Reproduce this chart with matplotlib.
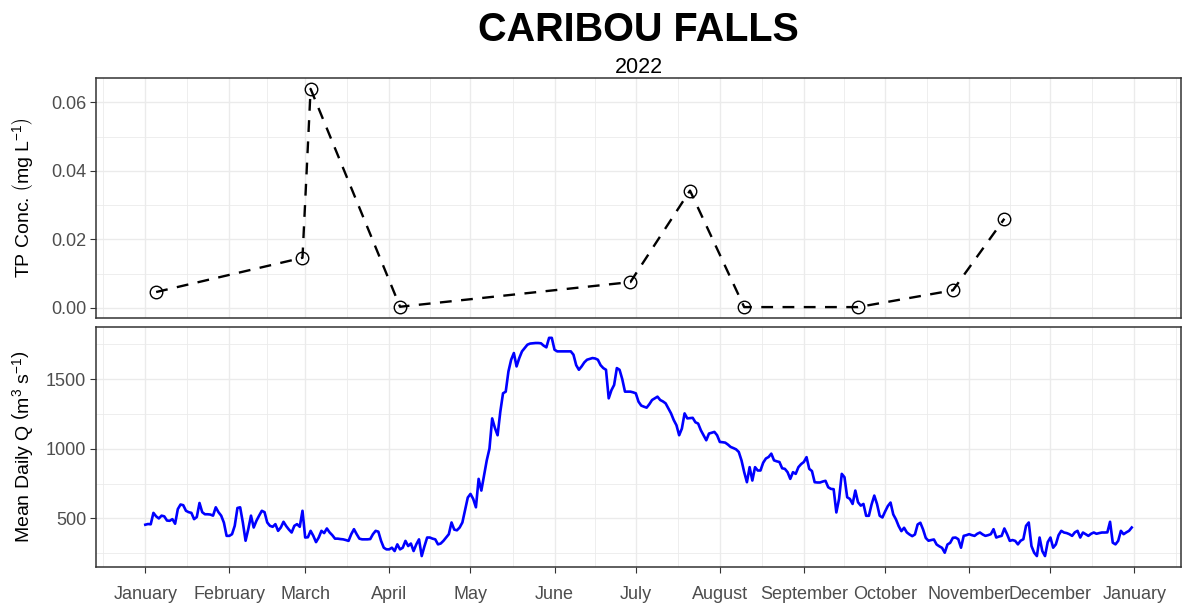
import matplotlib
matplotlib.use('Agg')
import matplotlib.pyplot as plt
import matplotlib.dates as mdates
import matplotlib.ticker as mticker
import pandas as pd

### -------------------------------------------------------------------------------------------------------------------
### Data
### -------------------------------------------------------------------------------------------------------------------

siteName = 'CARIBOU FALLS'
yearLabel = '2022'

# TP grab samples (mg/L)
tpDates = ['2022-01-05', '2022-02-28', '2022-03-03', '2022-04-05', '2022-06-29',
           '2022-07-21', '2022-08-10', '2022-09-21', '2022-10-26', '2022-11-14']
tpConc = [0.0046, 0.0146, 0.0639, 0.0003, 0.0075, 0.0342, 0.0002, 0.0002, 0.0051, 0.0260]

# mean daily discharge (m3/s), one list per month
qJan = [455, 460, 458, 540, 515, 500, 520, 515, 485, 483, 495, 462, 567, 600, 595, 555,
        545, 540, 495, 510, 611, 545, 530, 530, 528, 520, 580, 545, 520, 470, 375]
qFeb = [375, 387, 447, 575, 580, 470, 340, 423, 520, 435, 483, 520, 555, 545, 471, 447,
        440, 459, 411, 435, 476, 445, 420, 399, 447, 459, 440, 555]
qMar = [363, 365, 411, 375, 330, 363, 411, 395, 428, 400, 380, 355, 355, 352, 350, 345,
        339, 387, 423, 387, 355, 350, 350, 350, 352, 387, 411, 405, 339, 290, 278]
qApr = [278, 290, 266, 314, 278, 290, 339, 302, 320, 266, 314, 350, 230, 300, 363, 363,
        355, 350, 314, 320, 339, 363, 387, 471, 420, 415, 435, 471, 560, 650]
qMay = [676, 640, 580, 784, 700, 808, 917, 1001, 1218, 1150, 1097, 1266, 1398, 1410, 1555, 1639,
        1687, 1591, 1651, 1699, 1723, 1747, 1755, 1757, 1759, 1759, 1757, 1740, 1728, 1796, 1796]
qJun = [1711, 1699, 1699, 1699, 1699, 1699, 1699, 1675, 1600, 1567, 1591, 1620, 1639, 1645, 1651,
        1648, 1639, 1600, 1579, 1567, 1362, 1420, 1458, 1579, 1567, 1500, 1410, 1410, 1410, 1405]
qJul = [1398, 1338, 1310, 1302, 1295, 1320, 1350, 1362, 1374, 1350, 1340, 1326, 1290, 1254, 1206,
        1169, 1097, 1145, 1254, 1218, 1220, 1222, 1190, 1181, 1133, 1097, 1061, 1109, 1115, 1121, 1097]
qAug = [1049, 1047, 1044, 1030, 1013, 1005, 996, 977, 917, 832, 760, 868, 772, 868, 844, 844,
        900, 930, 941, 965, 917, 910, 905, 860, 856, 832, 784, 832, 820, 868, 890]
qSep = [905, 940, 856, 840, 760, 758, 758, 765, 770, 724, 712, 710, 543, 640, 820, 796,
        652, 640, 604, 700, 616, 592, 604, 519, 519, 600, 664, 604, 519, 507]
qOct = [550, 589, 614, 529, 493, 445, 409, 433, 400, 385, 373, 385, 457, 469, 421, 360,
        340, 345, 349, 313, 300, 289, 254, 313, 325, 361, 363, 351, 290, 375, 380]
qNov = [387, 380, 375, 390, 399, 385, 375, 380, 387, 423, 363, 370, 375, 428, 387, 339,
        345, 339, 314, 340, 351, 447, 471, 302, 254, 230, 363, 266, 230, 330]
qDec = [363, 290, 314, 380, 411, 399, 395, 387, 375, 400, 411, 363, 399, 387, 375, 390,
        399, 390, 395, 399, 399, 400, 476, 326, 314, 339, 411, 387, 400, 411, 435]

monthStarts = ['2021-12-01', '2022-01-01', '2022-02-01', '2022-03-01', '2022-04-01', '2022-05-01',
               '2022-06-01', '2022-07-01', '2022-08-01', '2022-09-01', '2022-10-01', '2022-11-01',
               '2022-12-01', '2023-01-01', '2023-02-01']

### -------------------------------------------------------------------------------------------------------------------
### Setup
### -------------------------------------------------------------------------------------------------------------------

plt.rcParams['font.family'] = ['Liberation Sans', 'DejaVu Sans']
plt.rcParams['mathtext.fontset'] = 'custom'
plt.rcParams['mathtext.rm'] = 'Liberation Sans'
plt.rcParams['mathtext.it'] = 'Liberation Sans:italic'

gridColor = '#EBEBEB'
borderColor = '#333333'
tickTextColor = '#4D4D4D'

qDaily = qJan + qFeb + qMar + qApr + qMay + qJun + qJul + qAug + qSep + qOct + qNov + qDec
qDates = pd.date_range('2022-01-01', periods=len(qDaily), freq='D')
tpDt = pd.to_datetime(tpDates)

monthNums = [mdates.date2num(pd.Timestamp(m)) for m in monthStarts]
majorTicks = monthNums[1:-1]
minorTicks = [(a + b) / 2 for a, b in zip(monthNums[:-1], monthNums[1:])]

xMin = mdates.date2num(qDates[0])
xMax = mdates.date2num(qDates[-1])
xPad = 0.05 * (xMax - xMin)


def ExpandedLimits(values):
    lo, hi = min(values), max(values)
    pad = 0.05 * (hi - lo)
    return lo - pad, hi + pad


def StylePanel(ax):
    ax.set_xlim(xMin - xPad, xMax + xPad)
    ax.xaxis.set_major_locator(mticker.FixedLocator(majorTicks))
    ax.xaxis.set_minor_locator(mticker.FixedLocator(minorTicks))
    ax.xaxis.set_major_formatter(mdates.DateFormatter('%B'))
    ax.grid(which='major', color=gridColor, linewidth=1.0)
    ax.grid(which='minor', color=gridColor, linewidth=0.6)
    ax.set_axisbelow(True)
    for spine in ax.spines.values():
        spine.set_color(borderColor)
        spine.set_linewidth(1.1)
    ax.tick_params(which='major', length=4, width=0.8, color=borderColor,
                   labelsize=13, labelcolor=tickTextColor, pad=3)
    ax.tick_params(which='minor', length=0)


### -------------------------------------------------------------------------------------------------------------------
### Plot
### -------------------------------------------------------------------------------------------------------------------

fig = plt.figure(figsize=(11.82, 6.04), dpi=100)
axTop = fig.add_axes([0.0812, 0.4735, 0.918, 0.3974])
axBot = fig.add_axes([0.0812, 0.0613, 0.918, 0.3974])

# TP concentration
axTop.plot(tpDt, tpConc, color='black', linestyle=(0, (5, 4)), linewidth=1.7,
           marker='o', markersize=9, markerfacecolor='none', markeredgecolor='black',
           markeredgewidth=1.0)
StylePanel(axTop)
axTop.set_ylim(*ExpandedLimits(tpConc))
axTop.yaxis.set_major_locator(mticker.FixedLocator([0.00, 0.02, 0.04, 0.06]))
axTop.yaxis.set_minor_locator(mticker.FixedLocator([-0.01, 0.01, 0.03, 0.05]))
axTop.yaxis.set_major_formatter(mticker.FormatStrFormatter('%.2f'))
axTop.tick_params(axis='x', which='both', length=0, labelbottom=False)
axTop.set_ylabel(r'TP Conc. $\left(\mathrm{mg\ L^{-1}}\right)$', fontsize=14)

# discharge
axBot.plot(qDates, qDaily, color='#0000FF', linewidth=1.9)
StylePanel(axBot)
axBot.tick_params(axis='x', which='major', pad=9.5)
axBot.set_ylim(*ExpandedLimits(qDaily))
axBot.yaxis.set_major_locator(mticker.FixedLocator([500, 1000, 1500]))
axBot.yaxis.set_minor_locator(mticker.FixedLocator([250, 750, 1250, 1750]))
axBot.set_ylabel(r'Mean Daily Q $\left(\mathrm{m^{3}\ s^{-1}}\right)$', fontsize=14)

# both y titles sit on the same vertical line
axTop.yaxis.set_label_coords(-0.0565, 0.5)
axBot.yaxis.set_label_coords(-0.0565, 0.5)

panelCenter = 0.0812 + 0.918 / 2
fig.text(panelCenter, 0.951, siteName, ha='center', va='center', fontsize=28.5, fontweight='bold')
fig.text(panelCenter, 0.888, yearLabel, ha='center', va='center', fontsize=15.5)

fig.savefig('out.png', dpi=100)
